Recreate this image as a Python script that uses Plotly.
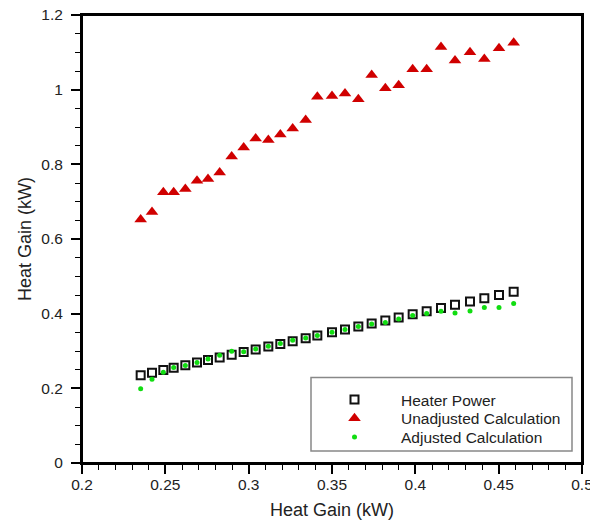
import plotly.graph_objects as go

# Heat gain x values (kW), shared by the three series
heat_gain_x = [0.2352, 0.2420, 0.2488, 0.2550, 0.2620, 0.2690, 0.2756, 0.2826,
               0.2898, 0.2970, 0.3042, 0.3118, 0.3190, 0.3264, 0.3342, 0.3412,
               0.3500, 0.3578, 0.3658, 0.3738, 0.3820, 0.3900, 0.3984, 0.4068,
               0.4154, 0.4238, 0.4328, 0.4414, 0.4502, 0.4590]

heater_power = [0.2352, 0.2420, 0.2488, 0.2550, 0.2620, 0.2690, 0.2756, 0.2826,
                0.2898, 0.2970, 0.3042, 0.3118, 0.3190, 0.3264, 0.3342, 0.3412,
                0.3500, 0.3578, 0.3658, 0.3738, 0.3820, 0.3900, 0.3984, 0.4068,
                0.4154, 0.4238, 0.4328, 0.4414, 0.4502, 0.4590]

unadjusted_calc = [0.652, 0.672, 0.725, 0.725, 0.734, 0.756, 0.761, 0.778,
                   0.821, 0.845, 0.869, 0.865, 0.880, 0.896, 0.919, 0.981,
                   0.983, 0.990, 0.974, 1.039, 1.004, 1.012, 1.055, 1.055,
                   1.114, 1.078, 1.100, 1.082, 1.111, 1.126]

adjusted_calc = [0.1986, 0.2241, 0.2434, 0.2559, 0.2611, 0.2690, 0.2783, 0.2889,
                 0.2996, 0.2980, 0.3051, 0.3127, 0.3199, 0.3291, 0.3346, 0.3414,
                 0.3500, 0.3575, 0.3658, 0.3720, 0.3766, 0.3855, 0.3948, 0.4006,
                 0.4065, 0.4015, 0.4069, 0.4164, 0.4163, 0.4269]

series_names = ["Heater Power", "Unadjusted Calculation", "Adjusted Calculation"]
axis_title = "Heat Gain (kW)"

FONT = "Liberation Sans, Arial, sans-serif"

# The page body adds an 8px margin, so the figure is 8px smaller than the
# window and all reference pixel positions are shifted by -8.
OFF = 8
W, H = 598 - OFF, 526 - OFF
L, R, T, B = 82 - OFF, 582 - OFF, 15 - OFF, 463 - OFF
PW, PH = R - L, B - T


def px_x(p):
    return (p - OFF - L) / PW


def px_y(p):
    return (B - (p - OFF)) / PH


fig = go.Figure()
fig.add_trace(go.Scatter(
    x=heat_gain_x, y=heater_power, mode="markers", name=series_names[0],
    legend="legend",
    marker=dict(symbol="square-open", size=8, color="#111111",
                line=dict(width=2, color="#111111")),
))
fig.add_trace(go.Scatter(
    x=heat_gain_x, y=unadjusted_calc, mode="markers", name=series_names[1],
    legend="legend2",
    marker=dict(symbol="triangle-up", size=11, color="#d00000",
                line=dict(width=0)),
))
fig.add_trace(go.Scatter(
    x=heat_gain_x, y=adjusted_calc, mode="markers", name=series_names[2],
    legend="legend3",
    marker=dict(symbol="circle", size=5, color="#11dd11",
                line=dict(width=0)),
))

axis_common = dict(
    showgrid=False, zeroline=False, automargin=False,
    showline=True, linecolor="black", linewidth=2, mirror=True,
    ticks="outside", ticklen=9, tickwidth=1.5, tickcolor="black",
    tickfont=dict(family=FONT, size=15.5, color="#222222"),
    ticklabeloverflow="allow",
)

fig.update_xaxes(
    range=[0.2, 0.5], dtick=0.05, tick0=0.2,
    minor=dict(dtick=0.01, ticks="outside", ticklen=5, tickwidth=1.2, tickcolor="black"),
    title=dict(text=axis_title, font=dict(family=FONT, size=18, color="#222222"), standoff=12),
    ticklabelstandoff=-3,
    **axis_common,
)
fig.update_yaxes(
    range=[0, 1.2], dtick=0.2, tick0=0,
    minor=dict(dtick=0.05, ticks="outside", ticklen=5, tickwidth=1.2, tickcolor="black"),
    title=dict(text=axis_title, font=dict(family=FONT, size=18, color="#222222"), standoff=5),
    ticklabelstandoff=5,
    **axis_common,
)

# plot frame (top and right sides included)
fig.add_shape(type="rect", xref="paper", yref="paper", x0=0, x1=1, y0=0, y1=1,
              line=dict(color="black", width=2), layer="above")

# legend frame
fig.add_shape(type="rect", xref="paper", yref="paper",
              x0=px_x(311), x1=px_x(572), y0=px_y(451), y1=px_y(377.5),
              line=dict(color="#888888", width=1.5), fillcolor="white", layer="below")

legend_common = dict(
    xanchor="left", yanchor="middle",
    bgcolor="rgba(0,0,0,0)", borderwidth=0,
    font=dict(family=FONT, size=15.5, color="#222222"),
    itemwidth=83,
)
row_y = [400, 418.7, 437.4]
leg_x = px_x(308)
fig.update_layout(
    width=W, height=H,
    margin=dict(l=L, r=W - R, t=T, b=H - B, autoexpand=False),
    paper_bgcolor="white", plot_bgcolor="white",
    font=dict(family=FONT, color="#222222"),
    showlegend=True,
    legend=dict(x=leg_x, y=px_y(row_y[0]), **legend_common),
    legend2=dict(x=leg_x, y=px_y(row_y[1]), **legend_common),
    legend3=dict(x=leg_x, y=px_y(row_y[2]), **legend_common),
)

fig.write_html("out.html")
